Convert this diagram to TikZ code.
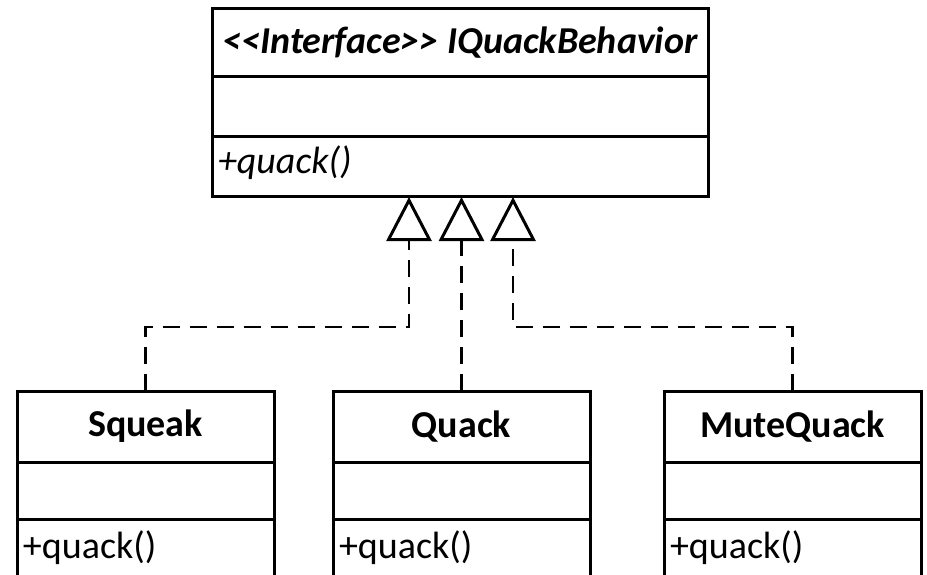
\documentclass[tikz,border=0pt]{standalone}
\usepackage{fontspec}
\setmainfont{Carlito}[Ligatures=TeXOff]
\usetikzlibrary{arrows.meta}
\newcommand{\umlfont}{\fontsize{38}{42}\selectfont}
\begin{document}
\begin{tikzpicture}[x=1pt,y=-1pt,
  cell/.style={draw=black, line width=3pt, anchor=north west, inner sep=0pt,
    outer sep=0pt, font=\umlfont},
  wide/.style={cell, minimum width=496pt},
  narrow/.style={cell, minimum width=257pt},
  wideop/.style={cell, inner xsep=6pt, inner ysep=0pt, text width=484pt, align=left},
  narrowop/.style={cell, inner xsep=6pt, inner ysep=0pt, text width=245pt, align=left},
  impl/.style={line width=2.8pt, dash pattern=on 17pt off 10pt,
    -{Triangle[open, length=44pt, width=45pt, line width=3pt]}}]
\useasboundingbox (0,0) rectangle (927,575);

% interface class
\node[wide, minimum height=68pt, font=\umlfont\bfseries\itshape] (it) at (212,9)
  {<\kern0pt<Interface>\kern0pt> IQuackBehavior};
\node[wide, minimum height=60pt] (ia) at (212,77) {};
\node[wideop, text height=37pt, text depth=23pt, font=\umlfont\itshape] (im) at (212,137)
  {+quack()};

% concrete classes
\node[narrow, minimum height=71pt, font=\umlfont\bfseries] (sqN) at (17,391) {Squeak};
\node[narrow, minimum height=57pt] (sqA) at (17,462) {};
\node[narrowop, text height=39pt, text depth=41pt] (sqM) at (17,519) {+quack()};

\node[narrow, minimum height=71pt, font=\umlfont\bfseries] (quN) at (333,391) {Quack};
\node[narrow, minimum height=57pt] (quA) at (333,462) {};
\node[narrowop, text height=39pt, text depth=41pt] (quM) at (333,519) {+quack()};

\node[narrow, minimum height=71pt, font=\umlfont\bfseries] (muN) at (664,391) {MuteQuack};
\node[narrow, minimum height=57pt] (muA) at (664,462) {};
\node[narrowop, text height=39pt, text depth=41pt] (muM) at (664,519) {+quack()};

% realization connectors
\coordinate (j1) at (409,327);
\coordinate (j3) at (513,327);
\draw[impl] (sqN.north) |- (j1) -- (j1 |- im.south);
\draw[impl] (quN.north) -- (quN.north |- im.south);
\draw[impl] (muN.north) |- (j3) -- (j3 |- im.south);
\end{tikzpicture}
\end{document}
